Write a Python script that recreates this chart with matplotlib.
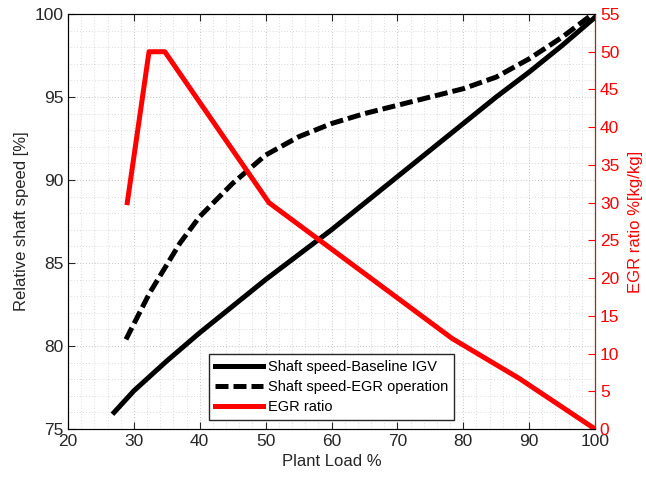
import matplotlib

matplotlib.use("Agg")
import matplotlib.pyplot as plt
from matplotlib.ticker import MultipleLocator

plt.rcParams["font.family"] = ["Liberation Sans", "DejaVu Sans"]
plt.rcParams["font.size"] = 11

# shaft speed with baseline IGV control
load_base = [27, 30, 35, 40, 45, 50, 55, 60, 65, 70, 75, 80, 85, 90, 95, 100]
speed_base = [76.0, 77.3, 79.1, 80.8, 82.4, 84.0, 85.5, 87.0, 88.6, 90.2, 91.8, 93.4, 95.0, 96.5, 98.1, 99.8]

# shaft speed with EGR operation
load_egr = [28.8, 32.4, 37, 40, 45, 50, 55, 60, 65, 70, 75, 80, 85, 90, 95, 100]
speed_egr = [80.4, 83.2, 86.2, 87.8, 89.8, 91.5, 92.6, 93.4, 94.0, 94.5, 95.0, 95.5, 96.2, 97.3, 98.6, 100.1]

# EGR ratio
load_ratio = [29, 32.3, 34.7, 50.5, 78.3, 88.5, 100]
egr_ratio = [30, 50, 50, 30, 12, 6.7, 0]

fig = plt.figure(figsize=(6.46, 4.83), dpi=100)
ax = fig.add_axes([68 / 646, 1 - 429 / 483, 527 / 646, 415 / 483])
ax2 = ax.twinx()

ax.plot(load_base, speed_base, color="black", lw=3.6, label="Shaft speed-Baseline IGV")
ax.plot(load_egr, speed_egr, color="black", lw=3.6, ls=(0, (2.6, 1.0)),
        label="Shaft speed-EGR operation")
ax2.plot(load_ratio, egr_ratio, color="red", lw=3.6, label="EGR ratio")

ax.set_xlim(20, 100)
ax.set_ylim(75, 100)
ax2.set_ylim(0, 55)
ax.xaxis.set_major_locator(MultipleLocator(10))
ax.xaxis.set_minor_locator(MultipleLocator(2))
ax.yaxis.set_major_locator(MultipleLocator(5))
ax.yaxis.set_minor_locator(MultipleLocator(1))
ax2.yaxis.set_major_locator(MultipleLocator(5))

ax.grid(True, which="major", color="#b0b0b0", ls=(0, (1, 2.5)), lw=0.6)
ax.grid(True, which="minor", color="#cfcfcf", ls=(0, (1, 2.5)), lw=0.6)
ax.set_axisbelow(True)

ax.tick_params(which="both", direction="in", top=True, labelsize=12.5, colors="#262626")
ax.tick_params(which="minor", length=0)
ax.tick_params(which="major", length=5)
ax2.tick_params(axis="y", colors="red", direction="in", length=5, labelsize=12.5)
ax2.spines["right"].set_color("red")
for side in ["left", "top", "bottom"]:
    ax.spines[side].set_color("#262626")

ax.set_xlabel("Plant Load %", fontsize=12, color="#262626")
ax.set_ylabel("Relative shaft speed [%]", fontsize=12, color="#262626")
ax2.set_ylabel("EGR ratio %[kg/kg]", fontsize=12, color="red", labelpad=6)

lines = ax.get_lines() + ax2.get_lines()
leg = ax2.legend(lines, [l.get_label() for l in lines], loc="lower center",
                 bbox_to_anchor=(0.5, 0.012), fontsize=10.5, fancybox=False,
                 framealpha=1, edgecolor="#262626", handlelength=3.3,
                 borderpad=0.4, labelspacing=0.4, handletextpad=0.35,
                 borderaxespad=0.3)
leg.get_frame().set_linewidth(1.0)

fig.savefig("out.png", dpi=100)
